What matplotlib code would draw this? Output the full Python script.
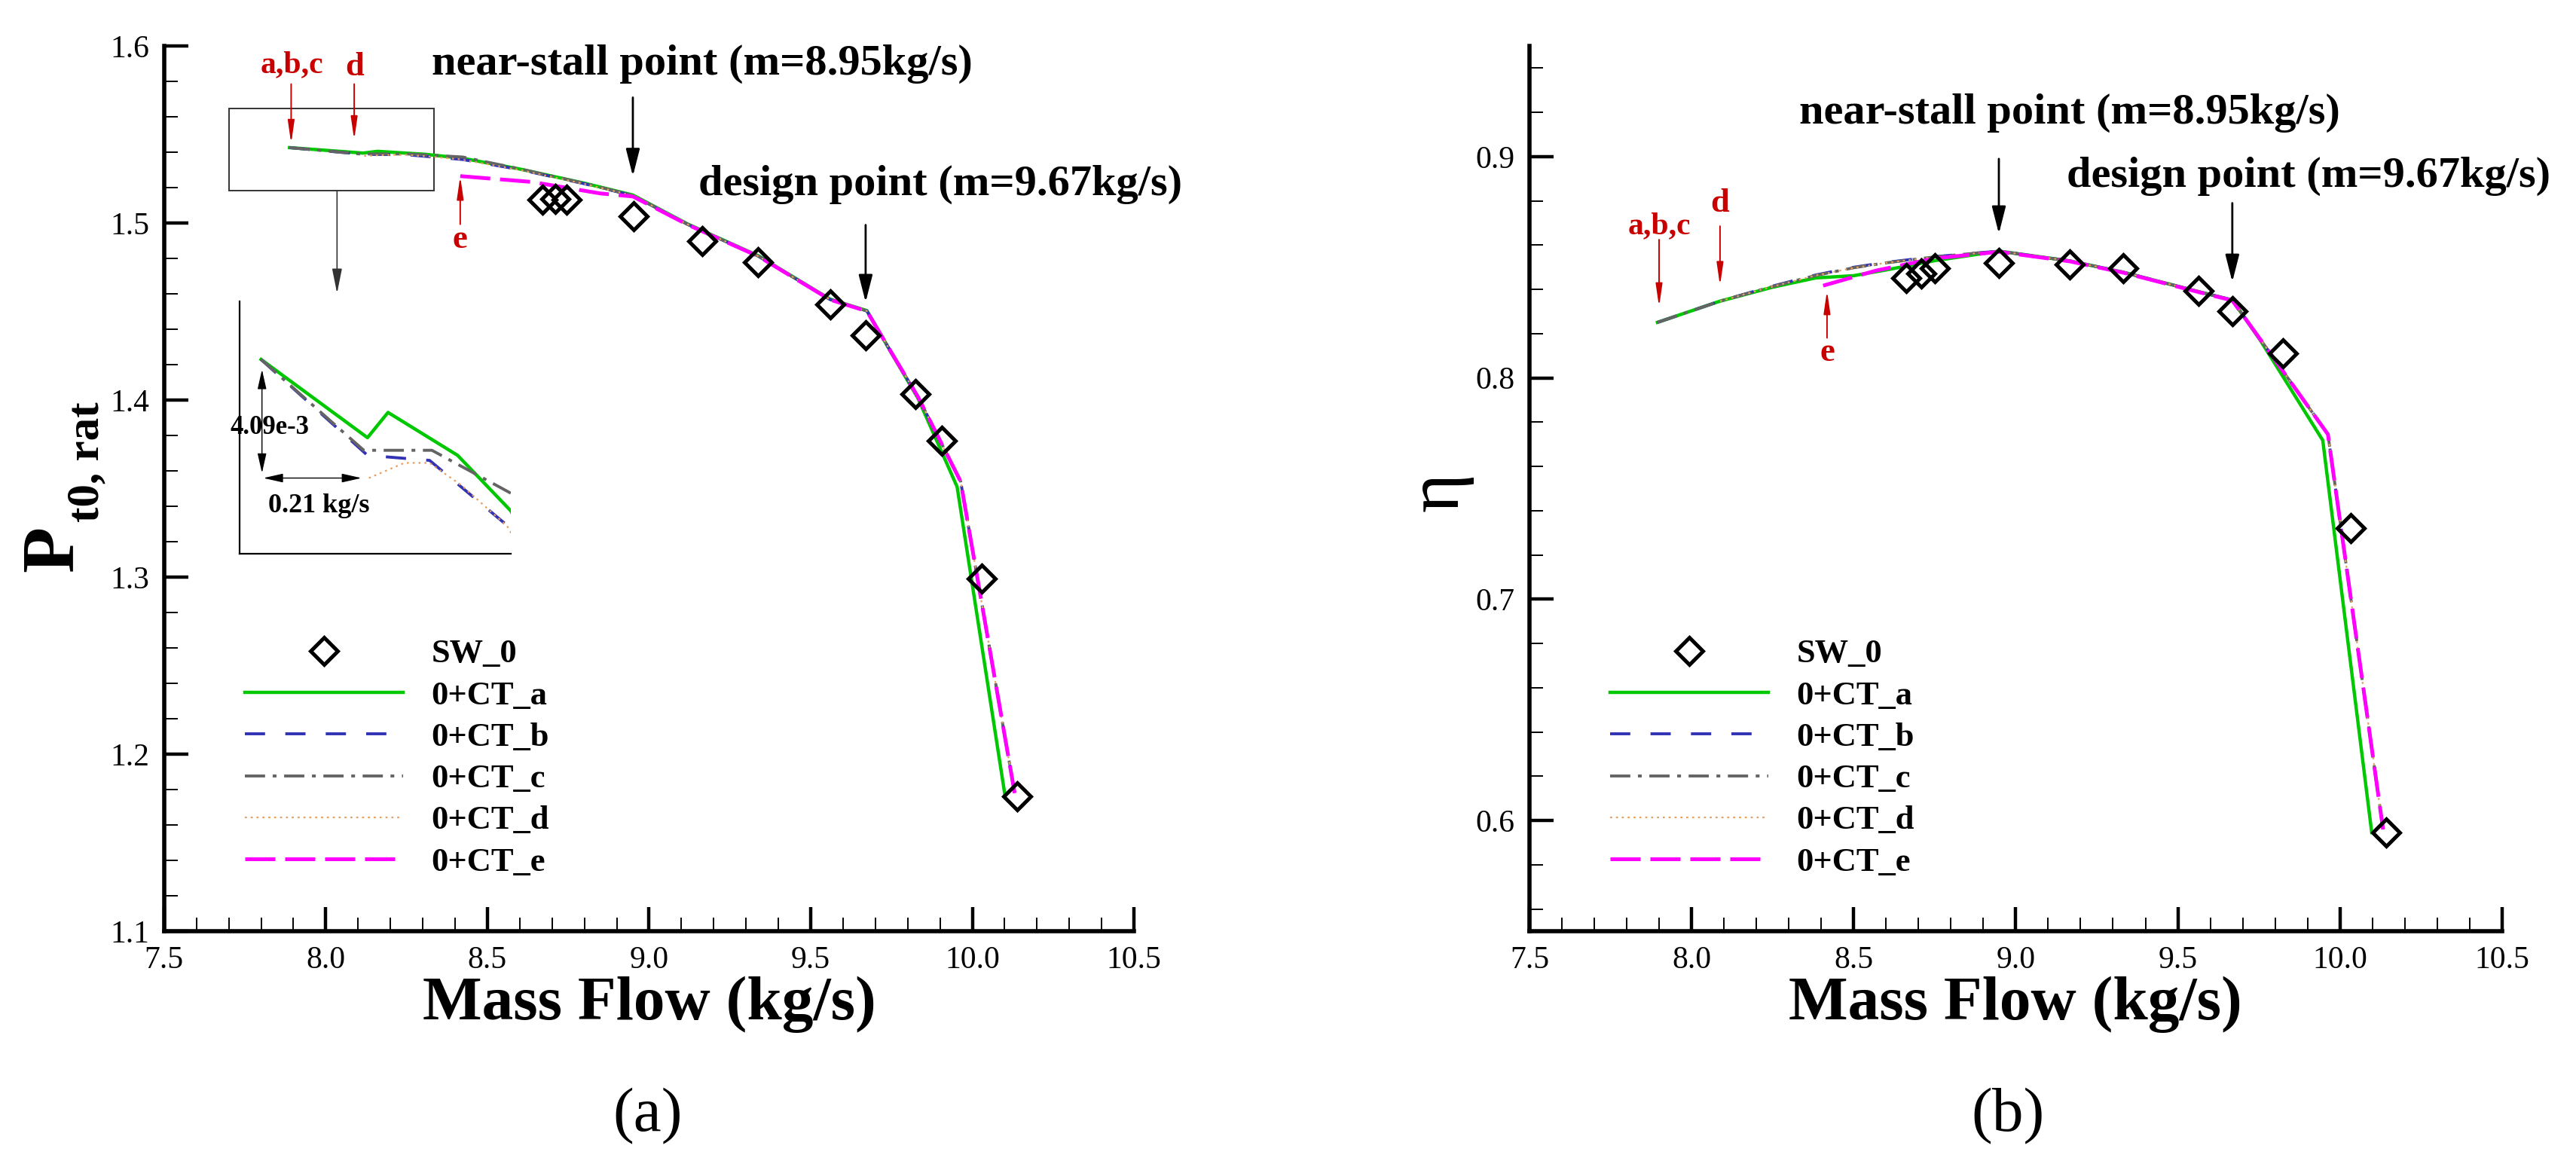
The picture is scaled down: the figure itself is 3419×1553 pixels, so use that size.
import matplotlib
matplotlib.use("Agg")
import matplotlib.pyplot as plt
from matplotlib.ticker import MultipleLocator, FormatStrFormatter
from matplotlib.lines import Line2D
from matplotlib.patches import Rectangle

plt.rcParams['font.family'] = ['Liberation Serif', 'DejaVu Serif']

# === data ===
# (a) total pressure ratio
sw_m_p = [8.67, 8.71, 8.745, 8.952, 9.164, 9.336, 9.560, 9.670, 9.825, 9.906, 10.030, 10.139]
sw_p = [1.5134, 1.5136, 1.5130, 1.5037, 1.4896, 1.4777, 1.4539, 1.4365, 1.4033, 1.3770, 1.2992, 1.1760]

m_a_p = [7.888, 8.116, 8.160, 8.309, 8.423, 8.60, 8.80, 8.95, 9.12, 9.338, 9.56, 9.674, 9.75, 9.832, 9.953, 10.10]
p_a = [1.5426, 1.5395, 1.5405, 1.5388, 1.5366, 1.5305, 1.5225, 1.5158, 1.4994, 1.4815, 1.4570, 1.4505, 1.4265, 1.4010, 1.3510, 1.1780]
m_b_p = [7.888, 8.116, 8.249, 8.423, 8.60, 8.80, 8.95, 9.12, 9.338, 9.56, 9.674, 9.75, 9.832, 9.964, 10.131]
p_b = [1.5426, 1.5388, 1.5386, 1.5359, 1.5302, 1.5222, 1.5155, 1.4992, 1.4813, 1.4568, 1.4503, 1.4268, 1.4018, 1.3540, 1.1780]
m_c_p = [7.888, 8.108, 8.254, 8.423, 8.60, 8.80, 8.95, 9.12, 9.338, 9.56, 9.674, 9.75, 9.832, 9.964, 10.131]
p_c = [1.5426, 1.5390, 1.5390, 1.5373, 1.5306, 1.5224, 1.5156, 1.4992, 1.4813, 1.4568, 1.4503, 1.4268, 1.4018, 1.3540, 1.1780]
m_d_p = [8.119, 8.195, 8.249, 8.318, 8.415, 8.60, 8.80, 8.95, 9.12, 9.338, 9.56, 9.674, 9.75, 9.832, 9.964, 10.131]
p_d = [1.5379, 1.5385, 1.5385, 1.5376, 1.5360, 1.5300, 1.5221, 1.5155, 1.4992, 1.4813, 1.4568, 1.4503, 1.4268, 1.4018, 1.3540, 1.1780]
m_e_p = [8.416, 8.638, 8.85, 8.95, 9.12, 9.338, 9.56, 9.674, 9.75, 9.832, 9.964, 10.131]
p_e = [1.5265, 1.5232, 1.5167, 1.5150, 1.4990, 1.4812, 1.4567, 1.4502, 1.4268, 1.4018, 1.3540, 1.1780]

# (b) efficiency
sw_m_eta = [8.662, 8.709, 8.751, 8.948, 9.167, 9.332, 9.564, 9.668, 9.824, 10.033, 10.142]
sw_eta = [0.8451, 0.8473, 0.8495, 0.8520, 0.8512, 0.8495, 0.8395, 0.8303, 0.8112, 0.7320, 0.5946]

m_a_e = [7.895, 8.088, 8.25, 8.383, 8.50, 8.60, 8.75, 8.948, 9.166, 9.331, 9.564, 9.668, 9.754, 9.947, 10.098]
eta_a = [0.8251, 0.8347, 0.8410, 0.8452, 0.8462, 0.8488, 0.8530, 0.8573, 0.8529, 0.8478, 0.8390, 0.8352, 0.8171, 0.7718, 0.5946]
m_b_e = [7.895, 8.088, 8.25, 8.383, 8.50, 8.60, 8.75, 8.948, 9.166, 9.331, 9.564, 9.668, 9.754, 9.963, 10.133]
eta_b = [0.8251, 0.8347, 0.8415, 0.8465, 0.8500, 0.8522, 0.8548, 0.8573, 0.8529, 0.8478, 0.8390, 0.8352, 0.8175, 0.7745, 0.5960]
eta_c = [0.8251, 0.8347, 0.8413, 0.8463, 0.8498, 0.8520, 0.8547, 0.8573, 0.8529, 0.8478, 0.8390, 0.8352, 0.8175, 0.7745, 0.5960]
m_d_e = [8.088, 8.25, 8.383, 8.50, 8.60, 8.75, 8.948, 9.166, 9.331, 9.564, 9.668, 9.754, 9.963, 10.133]
eta_d = [0.8347, 0.8413, 0.8463, 0.8497, 0.8520, 0.8546, 0.8573, 0.8529, 0.8478, 0.8390, 0.8352, 0.8175, 0.7745, 0.5960]
m_e_e = [8.406, 8.569, 8.75, 8.948, 9.166, 9.331, 9.564, 9.668, 9.754, 9.963, 10.133]
eta_e = [0.8417, 0.8485, 0.8540, 0.8570, 0.8527, 0.8476, 0.8388, 0.8350, 0.8175, 0.7745, 0.5960]

labels = ['SW_0', '0+CT_a', '0+CT_b', '0+CT_c', '0+CT_d', '0+CT_e']

# === styles ===
styles = [
    dict(color='#00c800', lw=1.6, ls='-'),
    dict(color='#3232b4', lw=1.4, ls=(0, (6.9, 6.9))),
    dict(color='#646464', lw=1.4, ls=(0, (6.9, 2.6, 1.3, 2.6))),
    dict(color='#e6a060', lw=0.8, ls=(0, (1.2, 2.3))),
    dict(color='#ff00ff', lw=1.8, ls=(0, (8.0, 2.6))),
]
sw_style = dict(ls='none', marker='D', mfc='none', mec='k', ms=9.3, mew=1.8)
RED = '#c80000'

fig = plt.figure(figsize=(17.095, 7.765), dpi=200)
ax1 = fig.add_axes([0.0637, 0.2041, 0.3765, 0.7566])
ax2 = fig.add_axes([0.5937, 0.2041, 0.3776, 0.7566])


def setup(ax, ylim):
    ax.set_xlim(7.5, 10.5)
    ax.set_ylim(*ylim)
    ax.xaxis.set_major_locator(MultipleLocator(0.5))
    ax.xaxis.set_minor_locator(MultipleLocator(0.1))
    ax.yaxis.set_major_locator(MultipleLocator(0.1))
    ax.yaxis.set_minor_locator(MultipleLocator(0.02))
    ax.xaxis.set_major_formatter(FormatStrFormatter('%.1f'))
    ax.yaxis.set_major_formatter(FormatStrFormatter('%.1f'))
    for s in ['top', 'right']:
        ax.spines[s].set_visible(False)
    for s in ['left', 'bottom']:
        ax.spines[s].set_linewidth(2.0)
    ax.tick_params(which='major', direction='in', length=11.5, width=1.6,
                   labelsize=15, pad=7, top=False, right=False)
    ax.tick_params(which='minor', direction='in', length=6.5, width=0.7,
                   top=False, right=False)
    ax.text(0.5, -0.083, 'Mass Flow (kg/s)', transform=ax.transAxes,
            ha='center', va='center', fontsize=30, fontweight='bold')


def arrow(ax, x, y0, y1, color='k', lw=1.0, hl=1.1, hw=0.28):
    ax.annotate('', xy=(x, y1), xytext=(x, y0),
                arrowprops=dict(arrowstyle=f'-|>,head_length={hl},head_width={hw}',
                                color=color, lw=lw, shrinkA=0, shrinkB=0))


def draw(ax, sw_m, sw_v, series):
    lines = []
    for (m, v), st in zip(series, styles):
        ln, = ax.plot(m, v, **st)
        lines.append(ln)
    ax.plot(sw_m, sw_v, zorder=5, **sw_style)
    handles = [Line2D([], [], **sw_style)] + lines
    ax.legend(handles, labels, loc='upper left', bbox_to_anchor=(0.083, 0.330),
              frameon=False, handlelength=4.73, handletextpad=0.84,
              labelspacing=0.34, borderpad=0, borderaxespad=0,
              prop=dict(size=16, weight='bold'))


# --- (a) ---
setup(ax1, (1.1, 1.6))
series_p = [(m_a_p, p_a), (m_b_p, p_b), (m_c_p, p_c), (m_d_p, p_d), (m_e_p, p_e)]
draw(ax1, sw_m_p, sw_p, series_p)

ax1.text(9.164, 1.590, 'near-stall point (m=8.95kg/s)', ha='center', va='center',
         fontsize=21, fontweight='bold')
arrow(ax1, 8.95, 1.5709, 1.5265)
ax1.text(9.902, 1.5218, 'design point (m=9.67kg/s)', ha='center', va='center',
         fontsize=21, fontweight='bold')
arrow(ax1, 9.67, 1.4989, 1.4553)

ax1.text(7.895, 1.5893, 'a,b,c', color=RED, ha='center', va='center', fontsize=15, fontweight='bold')
arrow(ax1, 7.893, 1.5785, 1.5449, color=RED, lw=0.7, hl=0.9, hw=0.13)
ax1.text(8.088, 1.5880, 'd', color=RED, ha='center', va='center', fontsize=16, fontweight='bold')
arrow(ax1, 8.088, 1.5785, 1.5470, color=RED, lw=0.7, hl=0.9, hw=0.13)
ax1.text(8.416, 1.4908, 'e', color=RED, ha='center', va='center', fontsize=16, fontweight='bold')
arrow(ax1, 8.416, 1.4993, 1.5265, color=RED, lw=0.7, hl=0.9, hw=0.13)

ax1.add_patch(Rectangle((7.70, 1.5182), 0.634, 0.0466, fill=False, lw=0.7, ec='#333333'))
arrow(ax1, 8.035, 1.5182, 1.4603, color='#333333', lw=0.6, hl=1.0, hw=0.2)

# inset
axi = fig.add_axes([0.0930, 0.5267, 0.1053, 0.2157])
axi.set_facecolor('none')
for (m, v), st in zip(series_p[:4], styles[:4]):
    axi.plot(m, v, **st)
axi.set_xlim(7.842, 8.423)
axi.set_ylim(1.5349, 1.5449)
axi.set_xticks([])
axi.set_yticks([])
for s in ['top', 'right']:
    axi.spines[s].set_visible(False)
for s in ['left', 'bottom']:
    axi.spines[s].set_linewidth(0.8)
axi.annotate('', xy=(7.890, 1.5381), xytext=(7.890, 1.5422),
             arrowprops=dict(arrowstyle='<|-|>,head_length=0.8,head_width=0.18',
                             color='k', lw=0.5, shrinkA=0, shrinkB=0))
axi.annotate('', xy=(8.103, 1.5379), xytext=(7.893, 1.5379),
             arrowprops=dict(arrowstyle='<|-|>,head_length=0.8,head_width=0.18',
                             color='k', lw=0.5, shrinkA=0, shrinkB=0))
axi.text(7.907, 1.5399, '4.09e-3', ha='center', va='center', fontsize=12.5, fontweight='bold')
axi.text(8.012, 1.5368, '0.21 kg/s', ha='center', va='center', fontsize=13, fontweight='bold')

fig.text(0.0208, 0.531, 'P', rotation=90, ha='center', va='center', fontsize=36, fontweight='bold')
fig.text(0.0339, 0.605, 't0, rat', rotation=90, ha='center', va='center', fontsize=22, fontweight='bold')

# --- (b) ---
setup(ax2, (0.55, 0.95))
series_e = [(m_a_e, eta_a), (m_b_e, eta_b), (m_b_e, eta_c), (m_d_e, eta_d), (m_e_e, eta_e)]
draw(ax2, sw_m_eta, sw_eta, series_e)

ax2.text(9.167, 0.9198, 'near-stall point (m=8.95kg/s)', ha='center', va='center',
         fontsize=21, fontweight='bold')
arrow(ax2, 8.948, 0.899, 0.8652)
ax2.text(9.903, 0.8912, 'design point (m=9.67kg/s)', ha='center', va='center',
         fontsize=21, fontweight='bold')
arrow(ax2, 9.668, 0.879, 0.8434)

ax2.text(7.90, 0.8686, 'a,b,c', color=RED, ha='center', va='center', fontsize=15, fontweight='bold')
arrow(ax2, 7.90, 0.8625, 0.8321, color=RED, lw=0.7, hl=0.9, hw=0.13)
ax2.text(8.088, 0.879, 'd', color=RED, ha='center', va='center', fontsize=16, fontweight='bold')
arrow(ax2, 8.088, 0.8686, 0.8417, color=RED, lw=0.7, hl=0.9, hw=0.13)
ax2.text(8.418, 0.8113, 'e', color=RED, ha='center', va='center', fontsize=16, fontweight='bold')
arrow(ax2, 8.418, 0.8181, 0.8395, color=RED, lw=0.7, hl=0.9, hw=0.13)

fig.text(0.5587, 0.5795, 'η', rotation=90, ha='center', va='center', fontsize=36)

fig.text(0.2515, 0.0457, '(a)', ha='center', va='center', fontsize=30)
fig.text(0.7795, 0.0457, '(b)', ha='center', va='center', fontsize=30)

fig.savefig('out.png', dpi=200)
